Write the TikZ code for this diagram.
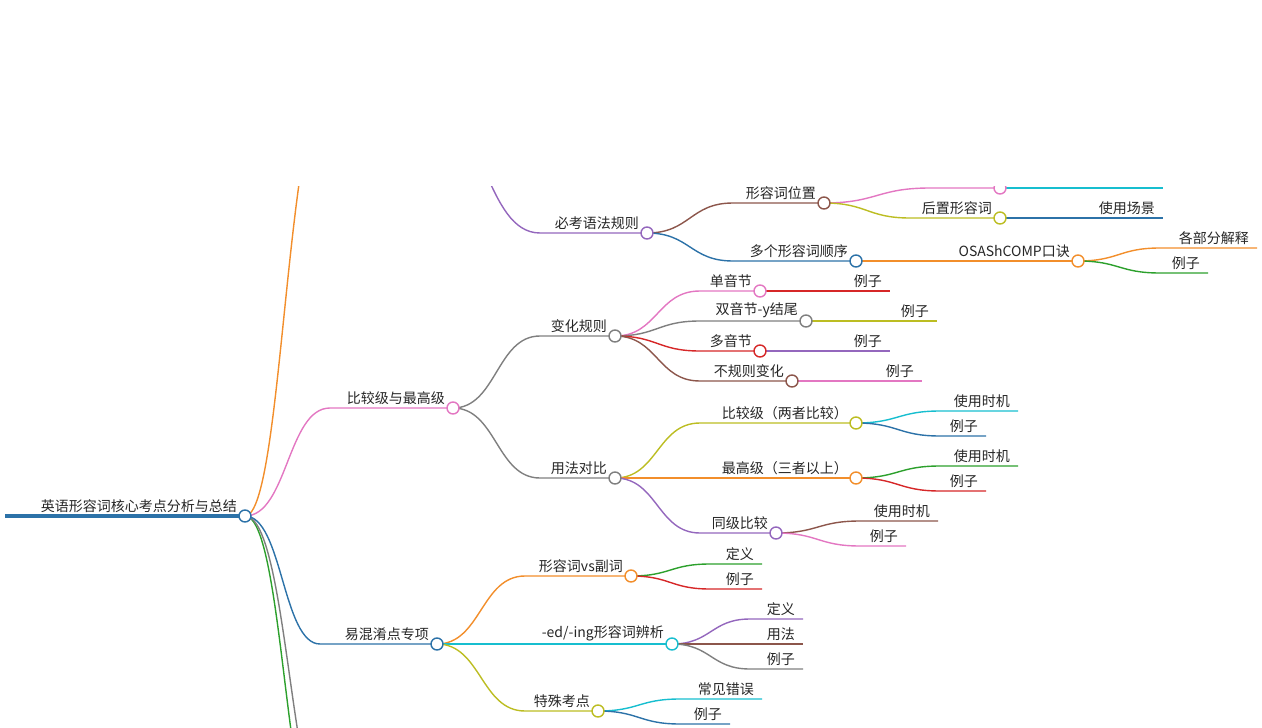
\documentclass[tikz,border=0pt]{standalone}
\usepackage{fontspec}
\newfontfamily\cjk{Noto Sans CJK SC}
\definecolor{cO}{HTML}{F28E2B}\definecolor{cB}{HTML}{2C72A8}\definecolor{cP}{HTML}{E377C2}
\definecolor{cG}{HTML}{7F7F7F}\definecolor{cN}{HTML}{2CA02C}\definecolor{cR}{HTML}{D62728}
\definecolor{cU}{HTML}{9467BD}\definecolor{cW}{HTML}{8C564B}\definecolor{cL}{HTML}{BCBD22}
\definecolor{cC}{HTML}{17BECF}
\tikzset{edge/.style={line width=1.4pt},lab/.style={anchor=south east,inner sep=0pt,font=\cjk\fontsize{14}{16}\selectfont,text=black!85},
dot/.style={circle,draw=#1,fill=white,line width=1.4pt,minimum size=12pt,inner sep=0pt}}
% #1 name #2 px #3 py #4 sx #5 y #6 ex #7 color #8 text
\newcommand\lf[8]{\draw[edge,#7] (#2,#3) .. controls ({(#2+#4)/2},#3) and ({(#2+#4)/2},#5) .. (#4,#5) -- (#6,#5) coordinate (#1);
\node[lab] (t#1) at ({#6-8},{#5-3}) {#8};}
\begin{document}
\begin{tikzpicture}[x=1pt,y=-1pt]
\useasboundingbox (0,0) rectangle (1262,728);
\clip (0,186) rectangle (1262,728);
% root
\draw[line width=3.5pt,cB] (5,516) -- (245,516) coordinate (root);
\node[lab] at (237,513) {英语形容词核心考点分析与总结};
\draw[edge,cO] (245,516) .. controls (285,516) and (285,60) .. (340,60);
\draw[edge,cN] (245,516) .. controls (285,516) and (285,860) .. (330,860);
\draw[edge,cG] (245,516) .. controls (290,516) and (290,850) .. (340,850);
\draw[edge,cU] (430,110) .. controls (485,110) and (485,233) .. (540,233) -- (647,233) coordinate (a);
\node[lab] at (639,230) {必考语法规则};
\lf{a1}{647}{233}{733}{203}{824}{cW}{形容词位置}
\lf{a2}{647}{233}{733}{261}{856}{cB}{多个形容词顺序}
\lf{a11}{824}{203}{930}{188}{1000}{cP}{}
\draw[edge,cC] (1000,188) -- (1163,188) coordinate (a111);
\lf{a12}{824}{203}{910}{218}{1000}{cL}{后置形容词}
\lf{a121}{1000}{218}{1075}{218}{1163}{cB}{使用场景}
\lf{a21}{856}{261}{940}{261}{1078}{cO}{OSAShCOMP口诀}
\lf{a211}{1078}{261}{1160}{248}{1257}{cO}{各部分解释}
\lf{a212}{1078}{261}{1160}{273}{1208}{cN}{例子}
\lf{b}{245}{516}{330}{408}{453}{cP}{比较级与最高级}
\lf{b1}{453}{408}{540}{336}{615}{cG}{变化规则}
\lf{b2}{453}{408}{540}{478}{615}{cG}{用法对比}
\lf{b11}{615}{336}{700}{291}{760}{cP}{单音节}
\lf{b111}{760}{291}{820}{291}{890}{cR}{例子}
\lf{b12}{615}{336}{700}{321}{806}{cG}{双音节-y结尾}
\lf{b121}{806}{321}{870}{321}{937}{cL}{例子}
\lf{b13}{615}{336}{700}{351}{760}{cR}{多音节}
\lf{b131}{760}{351}{820}{351}{890}{cU}{例子}
\lf{b14}{615}{336}{700}{381}{792}{cW}{不规则变化}
\lf{b141}{792}{381}{850}{381}{922}{cP}{例子}
\lf{b21}{615}{478}{700}{423}{856}{cL}{比较级（两者比较）}
\lf{b211}{856}{423}{940}{411}{1018}{cC}{使用时机}
\lf{b212}{856}{423}{940}{436}{986}{cB}{例子}
\lf{b22}{615}{478}{700}{478}{856}{cO}{最高级（三者以上）}
\lf{b221}{856}{478}{940}{466}{1018}{cN}{使用时机}
\lf{b222}{856}{478}{940}{491}{986}{cR}{例子}
\lf{b23}{615}{478}{700}{533}{776}{cU}{同级比较}
\lf{b231}{776}{533}{860}{521}{938}{cW}{使用时机}
\lf{b232}{776}{533}{860}{546}{906}{cP}{例子}
\lf{c}{245}{516}{320}{644}{437}{cB}{易混淆点专项}
\lf{c1}{437}{644}{525}{576}{631}{cO}{形容词vs副词}
\lf{c2}{437}{644}{515}{644}{672}{cC}{-ed/-ing形容词辨析}
\lf{c3}{437}{644}{525}{711}{598}{cL}{特殊考点}
\lf{c11}{631}{576}{710}{564}{762}{cN}{定义}
\lf{c12}{631}{576}{710}{589}{762}{cR}{例子}
\lf{c21}{672}{644}{750}{619}{803}{cU}{定义}
\lf{c22}{672}{644}{750}{644}{803}{cW}{用法}
\lf{c23}{672}{644}{750}{669}{803}{cG}{例子}
\lf{c31}{598}{711}{680}{699}{762}{cC}{常见错误}
\lf{c32}{598}{711}{680}{724}{730}{cB}{例子}
% circles
\node[dot=cB] at (root) {};
\node[dot=cU] at (a) {};
\node[dot=cW] at (a1) {};\node[dot=cB] at (a2) {};
\node[dot=cP] at (a11) {};\node[dot=cL] at (a12) {};\node[dot=cO] at (a21) {};
\node[dot=cP] at (b) {};\node[dot=cG] at (b1) {};\node[dot=cG] at (b2) {};
\node[dot=cP] at (b11) {};\node[dot=cG] at (b12) {};\node[dot=cR] at (b13) {};\node[dot=cW] at (b14) {};
\node[dot=cL] at (b21) {};\node[dot=cO] at (b22) {};\node[dot=cU] at (b23) {};
\node[dot=cB] at (c) {};\node[dot=cO] at (c1) {};\node[dot=cC] at (c2) {};\node[dot=cL] at (c3) {};
\end{tikzpicture}
\end{document}
